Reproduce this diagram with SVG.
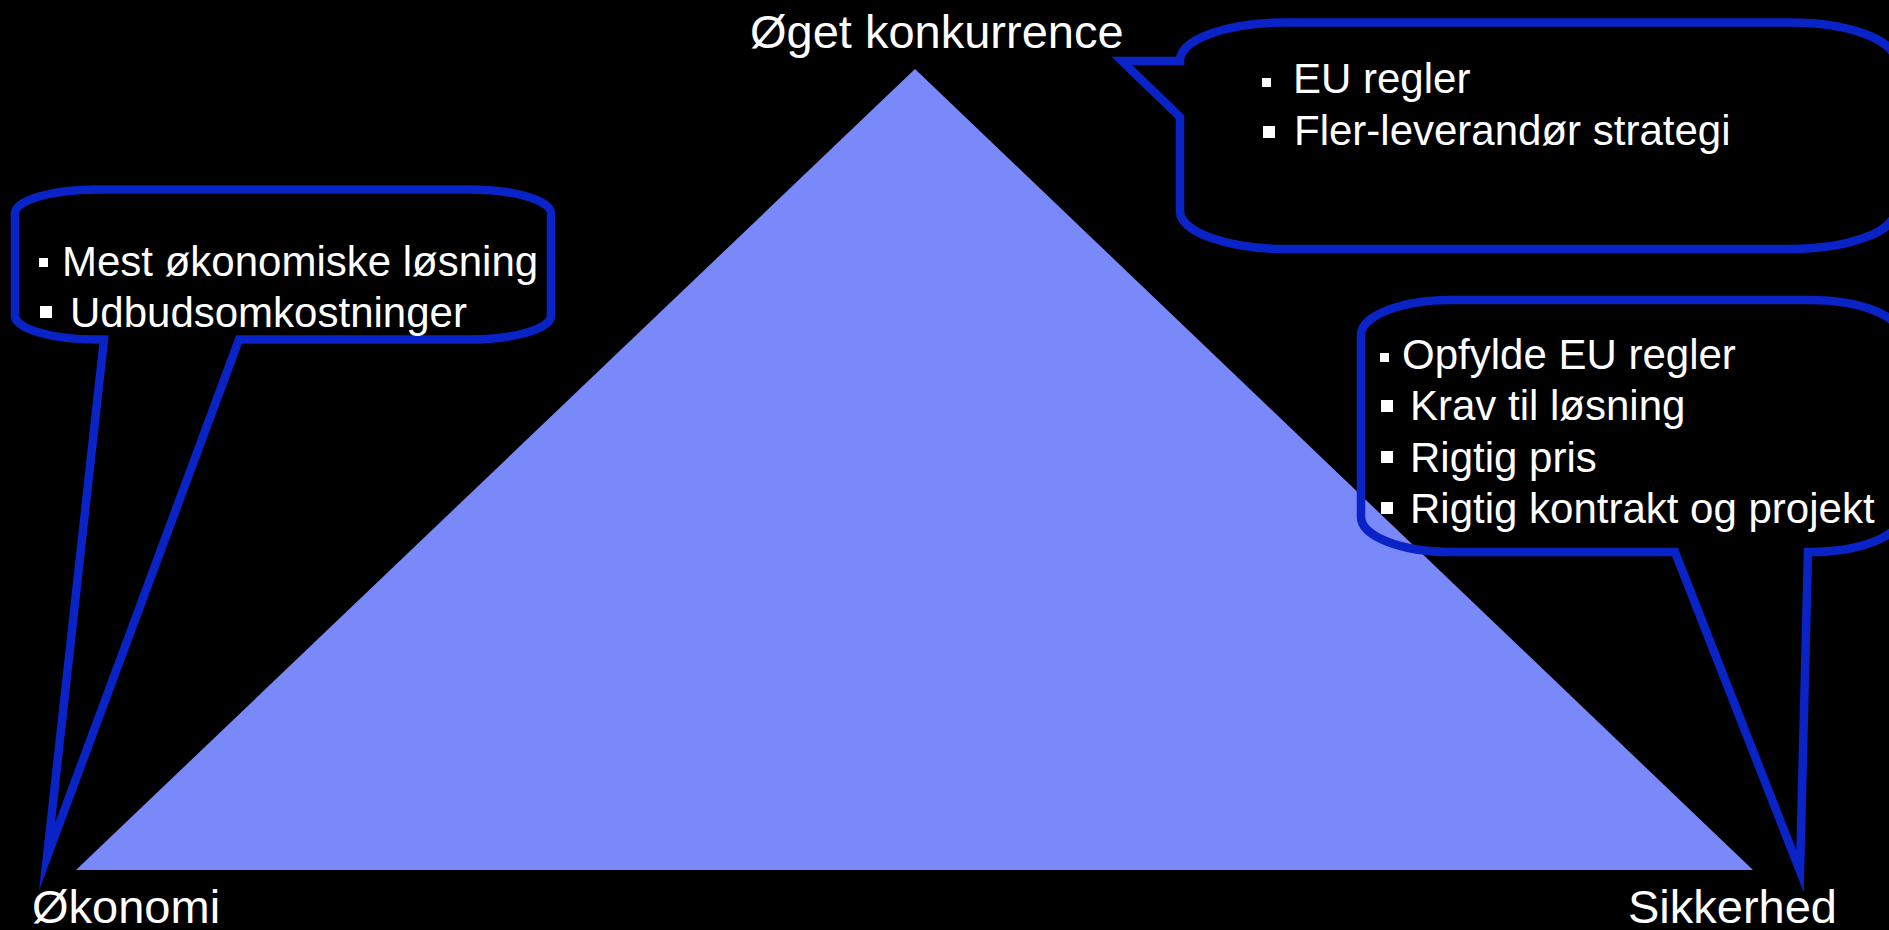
<svg xmlns="http://www.w3.org/2000/svg" width="1889" height="930" viewBox="0 0 1889 930">
<style>
.label{font-family:"Liberation Sans",Arial,sans-serif;font-size:47px;fill:#ffffff}
.txt{font-family:"Liberation Sans",Arial,sans-serif;font-size:42px;fill:#ffffff}
.callout{fill:none;stroke:#0A23C6;stroke-width:8.5;stroke-linejoin:miter;stroke-miterlimit:20}
.bul{fill:#ffffff}
</style>
<rect x="0" y="0" width="1889" height="930" fill="#000000"/>
<g id="triangle">
<polygon points="915,69 1753,870 76,870" fill="#7A89F9"/>
</g>
<g id="labels">
<text class="label" x="750" y="48">Øget konkurrence</text>
<text class="label" x="32" y="923">Økonomi</text>
<text class="label" x="1628" y="923">Sikkerhed</text>
</g>
<g id="connectors">
<path id="callout-left-shape" class="callout" d="M97,189.5 H469 A82 24 0 0 1 551,213.5 V315.5 A82 24 0 0 1 469,339.5 H239 L47,857 L104,339.5 H97 A82 24 0 0 1 15,315.5 V213.5 A82 24 0 0 1 97,189.5 Z"/>
<path id="callout-top-shape" class="callout" d="M1285,22.5 H1790 A105 38 0 0 1 1895,60.5 V211 A105 38 0 0 1 1790,249 H1285 A105 38 0 0 1 1180,211 V117 L1122,61 H1180 A105 38 0 0 1 1285,22.5 Z"/>
<path id="callout-right-shape" class="callout" d="M1451,300 H1810 A90 35 0 0 1 1900,335 V517 A90 35 0 0 1 1810,552 H1808 L1800,871 L1675,552 H1451 A90 35 0 0 1 1361,517 V335 A90 35 0 0 1 1451,300 Z"/>
</g>
<g id="callout-left">
<rect class="bul" x="39" y="258" width="9" height="9"/>
<text class="txt" x="62" y="276">Mest økonomiske løsning</text>
<rect class="bul" x="40" y="306" width="12" height="12"/>
<text class="txt" x="70" y="327">Udbudsomkostninger</text>
</g>
<g id="callout-top">
<rect class="bul" x="1262" y="78" width="9" height="9"/>
<text class="txt" x="1293" y="93">EU regler</text>
<rect class="bul" x="1263" y="126" width="12" height="12"/>
<text class="txt" x="1294" y="145">Fler-leverandør strategi</text>
</g>
<g id="callout-right">
<rect class="bul" x="1380" y="353" width="9" height="9"/>
<text class="txt" x="1402" y="369">Opfylde EU regler</text>
<rect class="bul" x="1381" y="400" width="12" height="12"/>
<text class="txt" x="1410" y="420">Krav til løsning</text>
<rect class="bul" x="1381" y="451" width="12" height="12"/>
<text class="txt" x="1410" y="472">Rigtig pris</text>
<rect class="bul" x="1381" y="502" width="12" height="12"/>
<text class="txt" x="1410" y="523">Rigtig kontrakt og projekt</text>
</g>
</svg>
